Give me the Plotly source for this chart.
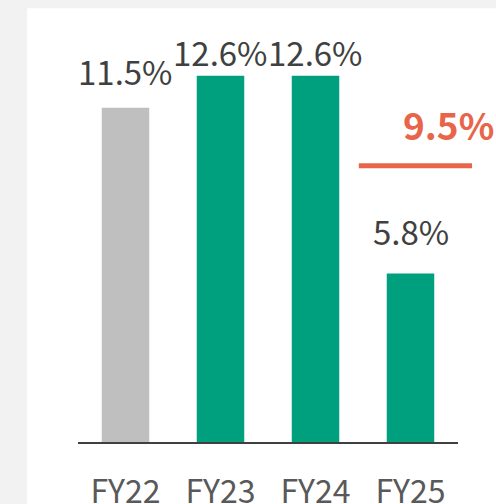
import plotly.graph_objects as go

FONT = "Noto Sans CJK JP"

years = ["FY22", "FY23", "FY24", "FY25"]
growth = [11.5, 12.6, 12.6, 5.8]
labels = ["11.5%", "12.6%", "12.6%", "5.8%"]
target = 9.5
target_label = "9.5%"

bar_colors = ["#bfbfbf", "#00a07f", "#00a07f", "#00a07f"]
label_shift = [37, 24, 24, 42]  # px above bar top

fig = go.Figure(
    go.Bar(
        x=years,
        y=growth,
        marker=dict(color=bar_colors, line=dict(width=0)),
        hoverinfo="skip",
    )
)

# value labels above bars
for yr, val, txt, dy in zip(years, growth, labels, label_shift):
    fig.add_annotation(
        x=yr, y=val, text=txt, showarrow=False,
        xanchor="center", yanchor="middle", yshift=dy,
        font=dict(family=FONT, size=33, color="#404040"),
    )

# target line for FY25 (runs a little past the axis end)
fig.add_shape(
    type="line", xref="paper", yref="y",
    x0=0.739, x1=1.037, y0=target, y1=target,
    line=dict(color="#e8654a", width=5),
)
fig.add_annotation(
    xref="paper", x=0.975, y=target, text=f"<b>{target_label}</b>",
    showarrow=False, xanchor="center", yanchor="middle", yshift=42,
    font=dict(family=FONT, size=37, color="#e8654a"),
)

# white card behind the chart
fig.add_shape(
    type="rect", xref="paper", yref="paper",
    x0=-0.134, x1=1.2, y0=-0.5, y1=1.066,
    fillcolor="white", line=dict(width=0), layer="below",
)

fig.update_layout(
    width=496,
    height=504,
    margin=dict(l=78, r=38, t=35, b=62, pad=0),
    paper_bgcolor="#f2f2f2",
    plot_bgcolor="rgba(0,0,0,0)",
    bargap=0.5,
    showlegend=False,
    font=dict(family=FONT),
    xaxis=dict(
        range=[-0.5, 3.5], automargin=False,
        showline=True, linecolor="#404040", linewidth=2,
        showgrid=False, ticks="", ticklabelstandoff=21,
        tickfont=dict(family=FONT, size=32, color="#595959"),
    ),
    yaxis=dict(
        range=[0, 14], visible=False, showgrid=False, zeroline=False,
        automargin=False,
    ),
)

# drop the default body margin so the figure sits at the page origin
fig.write_html(
    "out.html",
    config={"displayModeBar": False},
    post_script="document.body.style.margin='0';",
)
